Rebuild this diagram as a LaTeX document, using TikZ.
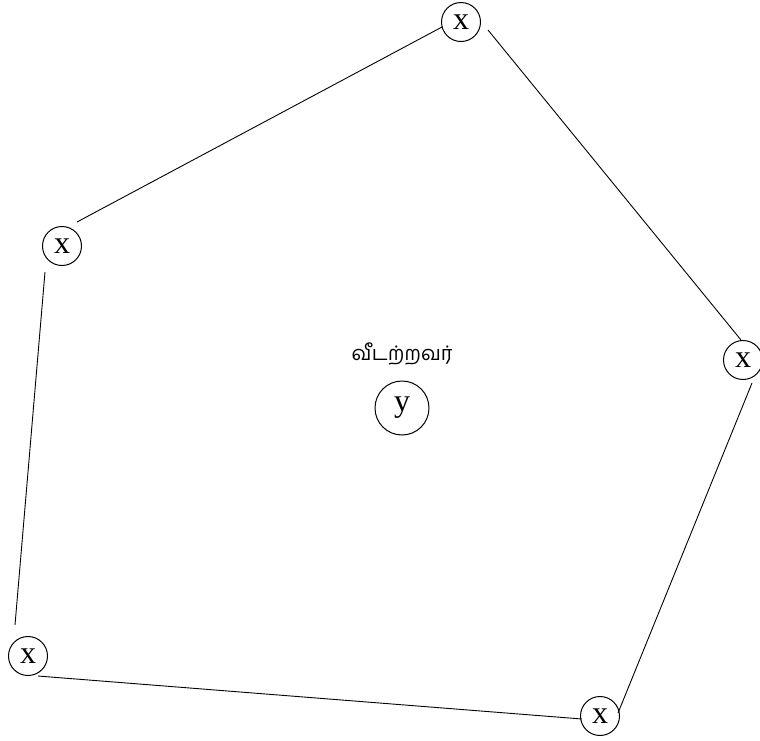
\documentclass[tikz,border=0pt]{standalone}
\usepackage{fontspec}
\setmainfont{Liberation Serif}
\newfontfamily\tamilfont[Script=Tamil]{Hind Madurai}
\begin{document}
\begin{tikzpicture}[x=1pt,y=-1pt,
  vx/.style={draw,circle,line width=1pt,minimum size=39pt,inner sep=0pt,font=\fontsize{32}{32}\selectfont},
  vy/.style={draw,circle,line width=1pt,minimum size=54pt,inner sep=0pt,font=\fontsize{32}{32}\selectfont},
  edge/.style={draw,line width=0.9pt}]
\useasboundingbox (0,0) rectangle (760,740);
\node[vx] (T) at (461,22) {x};
\node[vx] (L) at (62,246) {x};
\node[vx] (R) at (743,360) {x};
\node[vx] (BL) at (28,656) {x};
\node[vx] (BR) at (600,716) {x};
\node[vy] (Y) at (402,408) {y};
\node (lbl) at (402,354) {\tamilfont\fontsize{20}{20}\selectfont வீடற்றவர்};
\coordinate (e1a) at (77,222); \coordinate (e1b) at (442,27);
\coordinate (e2a) at (488,30); \coordinate (e2b) at (741,340);
\coordinate (e3a) at (752,383); \coordinate (e3b) at (618,713);
\coordinate (e4a) at (582,719); \coordinate (e4b) at (38,676);
\coordinate (e5a) at (15,625); \coordinate (e5b) at (45,272);
\draw[edge] (e1a) -- (e1b);
\draw[edge] (e2a) -- (e2b);
\draw[edge] (e3a) -- (e3b);
\draw[edge] (e4a) -- (e4b);
\draw[edge] (e5a) -- (e5b);
\end{tikzpicture}
\end{document}
